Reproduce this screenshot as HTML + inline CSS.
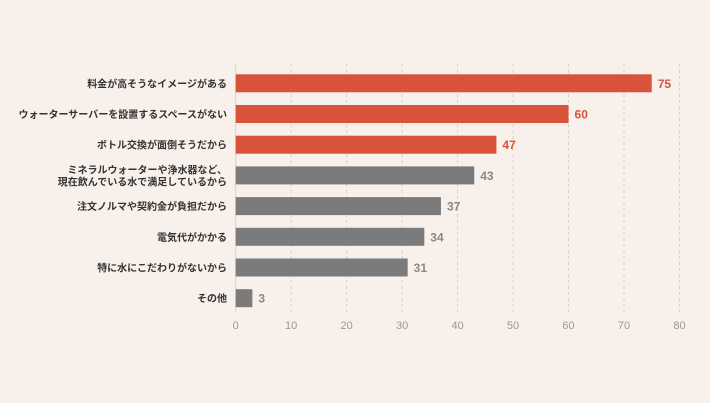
<!DOCTYPE html>
<html><head><meta charset="utf-8"><style>
html,body{margin:0;padding:0;background:#f8f0eb;}
svg{display:block;font-family:"Liberation Sans","Noto Sans CJK JP",sans-serif;}
</style></head><body>
<svg width="710" height="403" id="chart">
<rect x="0" y="0" width="710" height="403" fill="#f8f0eb"/>
<g id="grid"></g><g id="bars"></g><g id="labels"></g><g id="ticks"></g>
</svg>
<script>
const categories=[["料金が高そうなイメージがある"],["ウォーターサーバーを設置するスペースがない"],["ボトル交換が面倒そうだから"],["ミネラルウォーターや浄水器など、","現在飲んでいる水で満足しているから"],["注文ノルマや契約金が負担だから"],["電気代がかかる"],["特に水にこだわりがないから"],["その他"]];
const values=[75,60,47,43,37,34,31,3];
const highlight=[true,true,true,false,false,false,false,false];
const tickValues=[0,10,20,30,40,50,60,70,80];
const NS="http://www.w3.org/2000/svg";
const x0=235.7,xs=5.547,yTop=74.3,step=30.7,bh=18;
const X=v=>x0+v*xs, Y=i=>yTop+i*step;
function mk(t,a,p){const e=document.createElementNS(NS,t);for(const k in a)e.setAttribute(k,a[k]);p.appendChild(e);return e;}
const grid=document.getElementById('grid'),bars=document.getElementById('bars'),labels=document.getElementById('labels'),ticks=document.getElementById('ticks');
tickValues.forEach(v=>{
 const l=mk('line',{x1:X(v),x2:X(v),y1:64,y2:312,stroke:'#d8d0cc','stroke-width':1,'stroke-dasharray':v===0?'':'3,3'},grid);
 
 
 const t=mk('text',{x:X(v),y:329,'text-anchor':'middle','font-size':11,fill:'#999'},ticks);
 t.textContent=v;
 
 
});
values.forEach((v,i)=>{
 const c=highlight[i]?'#d9533a':'#7b7b7b';
 const r=mk('rect',{x:X(0),y:Y(i),width:X(v)-X(0),height:bh,fill:c},bars);
 
 
 const t=mk('text',{x:X(v)+6,y:Y(i)+bh/2+4.5,'font-size':12,'font-weight':'bold',fill:highlight[i]?'#d9533a':'#888'},labels);
 t.textContent=v;
 
 
 const lines=categories[i];
 lines.forEach((s,j)=>{
  const cy=Y(i)+bh/2+4+(j-(lines.length-1)/2)*12;
  const ct=mk('text',{x:227,y:cy,'text-anchor':'end','font-size':10,'font-weight':'bold',fill:'#333'},labels);
  ct.textContent=s;
  
  
 });
});
</script>
</body></html>
